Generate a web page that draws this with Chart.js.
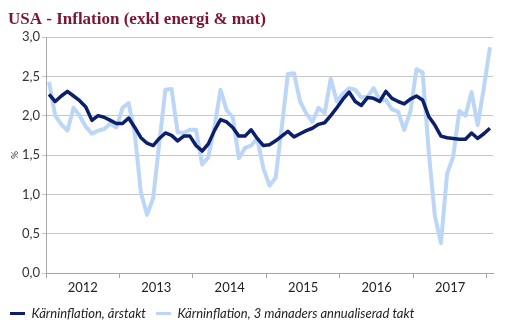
<!DOCTYPE html>
<html>
<head>
<meta charset="utf-8">
<script src="https://cdn.jsdelivr.net/npm/chart.js@4"></script>
<style>
  html, body { margin: 0; padding: 0; background: #fff; }
  #wrap { width: 514px; height: 333px; }
</style>
</head>
<body>
<div id="wrap"><canvas id="chart"></canvas></div>
<script>
// monthly, jan 2012 - jan 2018
const years = ['2012', '2013', '2014', '2015', '2016', '2017'];

const arstakt = [
  2.27, 2.18, 2.25, 2.31, 2.25, 2.19, 2.11, 1.94, 2.00, 1.98, 1.94, 1.90,
  1.90, 1.97, 1.85, 1.72, 1.65, 1.62, 1.71, 1.78, 1.75, 1.68, 1.74, 1.74,
  1.62, 1.55, 1.64, 1.81, 1.95, 1.92, 1.85, 1.74, 1.74, 1.82, 1.71, 1.62,
  1.63, 1.68, 1.74, 1.80, 1.73, 1.77, 1.81, 1.84, 1.89, 1.91, 2.00, 2.10,
  2.21, 2.30, 2.18, 2.13, 2.23, 2.22, 2.18, 2.31, 2.22, 2.18, 2.15, 2.21,
  2.25, 2.20, 1.99, 1.88, 1.74, 1.72, 1.71, 1.70, 1.70, 1.78, 1.71, 1.77,
  1.84
];

const treManader = [
  2.43, 2.00, 1.89, 1.81, 2.10, 2.00, 1.86, 1.77, 1.81, 1.83, 1.90, 1.85,
  2.10, 2.16, 1.77, 1.02, 0.74, 0.95, 1.65, 2.33, 2.34, 1.79, 1.78, 1.82,
  1.82, 1.38, 1.47, 1.85, 2.33, 2.07, 1.98, 1.46, 1.59, 1.62, 1.71, 1.33,
  1.11, 1.21, 1.85, 2.53, 2.54, 2.18, 2.03, 1.92, 2.10, 2.03, 2.47, 2.18,
  2.28, 2.35, 2.33, 2.23, 2.24, 2.35, 2.20, 2.20, 2.08, 2.05, 1.82, 2.05,
  2.59, 2.55, 1.55, 0.73, 0.38, 1.26, 1.48, 2.06, 2.00, 2.30, 1.88, 2.35,
  2.87
];

const toPoints = vals => vals.map((v, i) => ({ x: i + 0.5, y: v }));

const titlePlugin = {
  id: 'rubrik',
  afterDraw(chart) {
    const ctx = chart.ctx;
    ctx.save();
    ctx.font = 'bold 17px "Liberation Serif"';
    ctx.fillStyle = '#7a1532';
    ctx.textBaseline = 'alphabetic';
    ctx.fillText('USA - Inflation (exkl energi & mat)', 8, 24);
    ctx.restore();
  }
};

const font = 'Lato';

new Chart(document.getElementById('chart'), {
  type: 'line',
  data: {
    datasets: [
      {
        label: 'Kärninflation, årstakt',
        data: toPoints(arstakt),
        borderColor: '#0c1f6b',
        backgroundColor: '#0c1f6b',
        borderWidth: 3.5,
        pointRadius: 0,
        tension: 0,
        borderJoinStyle: 'round'
      },
      {
        label: 'Kärninflation, 3 månaders annualiserad takt',
        data: toPoints(treManader),
        borderColor: '#bcd6f8',
        backgroundColor: '#bcd6f8',
        borderWidth: 4,
        pointRadius: 0,
        tension: 0,
        borderJoinStyle: 'round'
      }
    ]
  },
  options: {
    responsive: true,
    maintainAspectRatio: false,
    animation: false,
    layout: { padding: { left: 0, right: 21, top: 37, bottom: 3 } },
    scales: {
      x: {
        type: 'linear',
        min: 0,
        max: 73,
        afterBuildTicks: scale => {
          scale.ticks = [];
          for (let v = 0; v <= 72; v += 6) scale.ticks.push({ value: v });
        },
        afterFit: scale => { scale.height = 24; },
        ticks: {
          autoSkip: false,
          maxRotation: 0,
          padding: 2,
          color: '#222',
          font: { family: font, size: 13 },
          callback: v => (v % 12 === 6 ? years[(v - 6) / 12] : '')
        },
        grid: {
          drawOnChartArea: false,
          tickLength: 5,
          color: ctx => (ctx.tick && ctx.tick.value % 12 === 0 ? '#a6a6a6' : 'rgba(0,0,0,0)')
        },
        border: { color: '#a6a6a6' }
      },
      y: {
        min: 0,
        max: 3,
        afterFit: scale => { scale.width = 46; },
        ticks: {
          stepSize: 0.5,
          padding: 2,
          color: '#333',
          font: { family: font, size: 13 },
          callback: v => v.toFixed(1).replace('.', ',')
        },
        grid: { color: '#c6c6c6', tickLength: 4 },
        border: { color: '#a6a6a6' },
        title: {
          display: true,
          text: '%',
          color: '#333',
          font: { family: font, size: 10 },
          padding: { top: 9, bottom: 0 }
        }
      }
    },
    plugins: {
      title: { display: false },
      tooltip: { enabled: false },
      legend: {
        position: 'bottom',
        align: 'start',
        labels: {
          boxWidth: 15,
          boxHeight: 3,
          padding: 10,
          color: '#222',
          font: { family: font, size: 13, style: 'italic' },
          generateLabels: chart => Chart.defaults.plugins.legend.labels.generateLabels(chart)
            .map(item => Object.assign(item, { lineWidth: 0, strokeStyle: 'rgba(0,0,0,0)' }))
        }
      }
    }
  },
  plugins: [titlePlugin]
});
</script>
</body>
</html>
